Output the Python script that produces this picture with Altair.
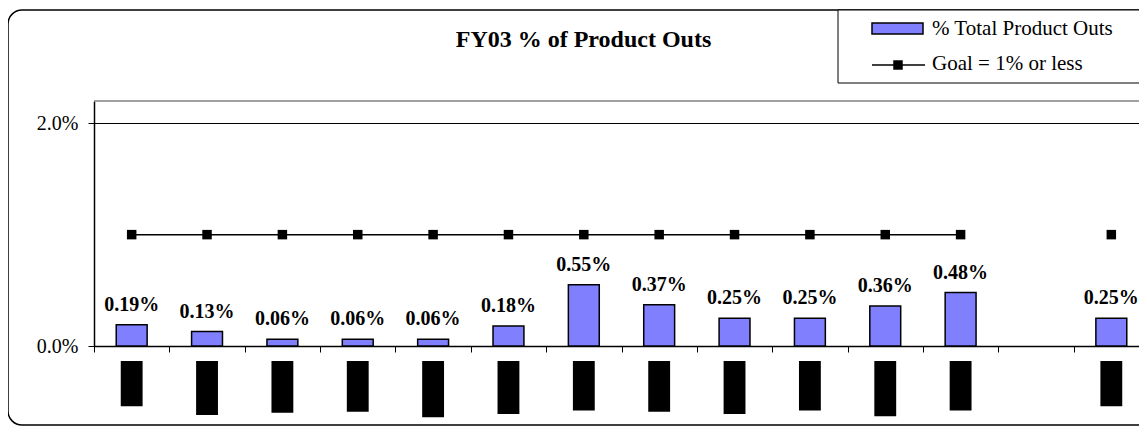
import altair as alt
import pandas as pd

# ---- data ----
categories = ["Oct-02", "Nov-02", "Dec-02", "Jan-03", "Feb-03", "Mar-03", "Apr-03",
              "May-03", "Jun-03", "Jul-03", "Aug-03", "Sep-03", " ", "FY03"]
pct_outs = [0.19, 0.13, 0.06, 0.06, 0.06, 0.18, 0.55, 0.37, 0.25, 0.25, 0.36, 0.48, None, 0.25]  # percent
goal = [1.0, 1.0, 1.0, 1.0, 1.0, 1.0, 1.0, 1.0, 1.0, 1.0, 1.0, 1.0, None, 1.0]  # percent
goal_segment = [1, 1, 1, 1, 1, 1, 1, 1, 1, 1, 1, 1, None, 2]
# redacted (blacked-out) category labels: depth of each block below the axis, in percent units
label_block_depth = [0.54, 0.62, 0.60, 0.59, 0.64, 0.61, 0.58, 0.59, 0.61, 0.58, 0.63, 0.58, None, 0.54]
label_block_start = 0.135
legend_labels = ["% Total Product Outs", "Goal = 1% or less"]
title_text = "FY03 %  of Product Outs"

df = pd.DataFrame({
    "category": categories,
    "pct": [None if v is None else v / 100 for v in pct_outs],
    "goal": [None if v is None else v / 100 for v in goal],
    "segment": goal_segment,
    "block_top": [None if v is None else -label_block_start / 100 for v in label_block_depth],
    "block_bottom": [None if v is None else -v / 100 for v in label_block_depth],
})

SERIF = "Liberation Serif"
BAR_FILL = "#8080FF"

xscale = alt.Scale(range=[0, 1055], paddingInner=0, paddingOuter=0)
yscale = alt.Scale(domain=[0, 0.022], nice=False, zero=True)

x_axis = alt.Axis(title=None, labels=False, tickBand="extent", domainColor="black",
                  domainWidth=1.5, tickColor="black", tickSize=6, tickWidth=1, grid=False)
y_axis = alt.Axis(title=None, values=[0, 0.02], format=".1%", labelFont=SERIF,
                  labelFontSize=20, labelColor="black", labelPadding=10, tickSize=6,
                  tickColor="black", tickWidth=1, domainColor="black", domainWidth=1.5,
                  grid=True, gridColor="black", gridWidth=1, gridOpacity=1)

X = alt.X("category:N", sort=categories, scale=xscale, axis=x_axis)
base = alt.Chart(df)

bars = base.mark_bar(width=alt.RelativeBandSize(0.41), fill=BAR_FILL, stroke="black",
                     strokeWidth=1.5).encode(
    x=X, y=alt.Y("pct:Q", scale=yscale, axis=y_axis))

labels = base.mark_text(baseline="alphabetic", dy=-14, font=SERIF, fontSize=20,
                        fontWeight="bold", color="black").encode(
    x=X, y=alt.Y("pct:Q", scale=yscale), text=alt.Text("pct:Q", format=".2%"))

goal_line = base.transform_filter("datum.goal != null").mark_line(
    color="black", strokeWidth=1.5).encode(
    x=X, y=alt.Y("goal:Q", scale=yscale), detail="segment:N")

goal_pts = base.transform_filter("datum.goal != null").mark_square(
    size=90, color="black", opacity=1).encode(
    x=X, y=alt.Y("goal:Q", scale=yscale))

blocks = base.transform_filter("datum.block_bottom != null").mark_bar(
    width=alt.RelativeBandSize(0.29), color="black").encode(
    x=X, y=alt.Y("block_top:Q", scale=yscale), y2="block_bottom:Q")

# ---- decorations (frame, plot border, title, legend) ----
one = alt.Chart(pd.DataFrame({"k": [0]}))

plot_top = one.mark_rule(color="#808080", strokeWidth=1.5).encode(
    x=alt.value(0), x2=alt.value(1055), y=alt.value(0))

frame = one.mark_rect(fill="white", fillOpacity=0, stroke="black", strokeWidth=1.5,
                      cornerRadius=14).encode(
    x=alt.value(-86), x2=alt.value(1060), y=alt.value(-91), y2=alt.value(324))

title = one.mark_text(font=SERIF, fontSize=24, fontWeight="bold", align="center",
                      baseline="alphabetic", color="black").encode(
    x=alt.value(489.5), y=alt.value(-54), text=alt.value(title_text))

leg_box = one.mark_rect(fill="white", stroke="black", strokeWidth=1).encode(
    x=alt.value(744), x2=alt.value(1070), y=alt.value(-91), y2=alt.value(-18))
leg_swatch = one.mark_rect(fill=BAR_FILL, stroke="black", strokeWidth=1.5).encode(
    x=alt.value(778), x2=alt.value(829), y=alt.value(-78), y2=alt.value(-67))
leg_text1 = one.mark_text(font=SERIF, fontSize=21, align="left", baseline="middle",
                          color="black").encode(
    x=alt.value(838), y=alt.value(-72), text=alt.value(legend_labels[0]))
leg_line = one.mark_rule(color="black", strokeWidth=1.5).encode(
    x=alt.value(778), x2=alt.value(831), y=alt.value(-36))
leg_sq = one.mark_square(size=90, color="black", opacity=1).encode(
    x=alt.value(804), y=alt.value(-36))
leg_text2 = one.mark_text(font=SERIF, fontSize=21, align="left", baseline="middle",
                          color="black").encode(
    x=alt.value(838), y=alt.value(-37), text=alt.value(legend_labels[1]))

chart = alt.layer(
    plot_top, bars, goal_line, goal_pts, labels, blocks,
    frame, title, leg_box, leg_swatch, leg_text1, leg_line, leg_sq, leg_text2,
).properties(
    width=1045, height=245,
    padding={"left": 86, "top": 93, "right": 0, "bottom": 80},
    autosize=alt.AutoSizeParams(type="none"),
    background="white",
).configure_view(stroke=None)

chart.save("out.html", embed_options={"renderer": "svg", "actions": False})
